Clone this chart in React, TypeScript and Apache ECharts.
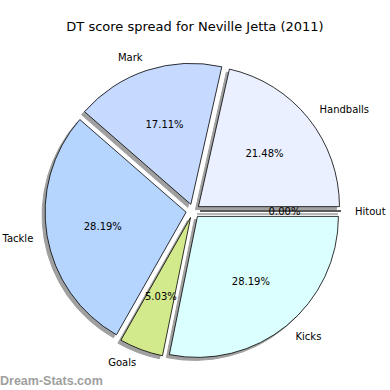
import React, { useEffect, useRef } from "react";
import * as echarts from "echarts";

const categories = ["Handballs", "Mark", "Tackle", "Goals", "Kicks", "Hitout"];
const values = [64, 51, 84, 15, 84, 0];
const colors = ["#eaf0ff", "#c6d9ff", "#b5d5ff", "#d2ea8c", "#dbffff", "#e0e0e0"];
const titleText = "DT score spread for Neville Jetta (2011)";
const watermark = "Dream-Stats.com";

const CX = 193;
const CY = 211;
const R = 141;
const EXPLODE = 7;
const FONT = "DejaVu Sans";

export default function App() {
  const ref = useRef<HTMLDivElement>(null);
  useEffect(() => {
    document.body.style.margin = "0";
    if (!ref.current) return;
    const chart = echarts.init(ref.current, null, { renderer: "svg" });
    const total = values.reduce((a, b) => a + b, 0);
    const baseData = categories.map((name, i) => ({
      name,
      value: values[i],
      selected: true,
    }));
    const common = {
      type: "pie",
      startAngle: 0,
      clockwise: false,
      selectedMode: "multiple",
      selectedOffset: EXPLODE,
      avoidLabelOverlap: false,
      minShowLabelAngle: 0,
      emphasis: { disabled: true, scale: false },
      animation: false,
    };
    chart.setOption({
      animation: false,
      title: {
        text: titleText,
        left: "center",
        top: 15,
        textStyle: { fontFamily: FONT, fontSize: 13, fontWeight: "normal", color: "#000" },
      },
      graphic: [
        {
          type: "text",
          left: 0,
          top: 374,
          style: {
            text: watermark,
            fontFamily: "Liberation Sans",
            fontSize: 12.5,
            fontWeight: "bold",
            fill: "#a0a0a0",
          },
        },
      ],
      series: [
        {
          ...common,
          name: "shadow",
          silent: true,
          z: 1,
          center: [CX - 3, CY + 3],
          radius: R,
          label: { show: false },
          labelLine: { show: false },
          itemStyle: { color: "#a0a0a0", borderColor: "#a0a0a0", borderWidth: 1 },
          data: baseData.map((d) => ({ ...d })),
        },
        {
          ...common,
          name: "main",
          z: 2,
          center: [CX, CY],
          radius: R,
          label: {
            show: true,
            position: "outside",
            distanceToLabelLine: 0,
            fontFamily: FONT,
            fontSize: 10,
            color: "#000",
            formatter: "{b}",
          },
          labelLine: { show: false, length: 14, length2: 0 },
          itemStyle: { borderColor: "#000", borderWidth: 0.8 },
          data: baseData.map((d, i) => ({ ...d, itemStyle: { color: colors[i] } })),
        },
        {
          ...common,
          name: "pct",
          silent: true,
          z: 3,
          center: [CX, CY],
          radius: 163,
          label: {
            show: true,
            position: "inside",
            fontFamily: FONT,
            fontSize: 10,
            color: "#000",
            formatter: (p: any) => ((p.value / total) * 100).toFixed(2) + "%",
          },
          labelLine: { show: false },
          itemStyle: { color: "rgba(0,0,0,0)", borderWidth: 0 },
          data: baseData.map((d) => ({ ...d })),
        },
      ],
    });
    return () => chart.dispose();
  }, []);
  return <div ref={ref} style={{ width: 390, height: 390 }} />;
}
